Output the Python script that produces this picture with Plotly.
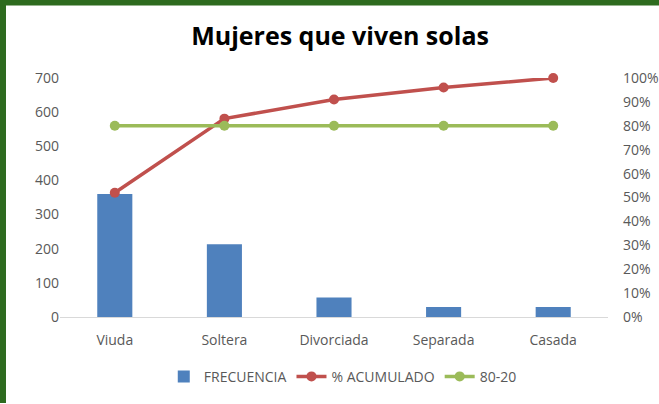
import plotly.graph_objects as go

categorias = ['Viuda', 'Soltera', 'Divorciada', 'Separada', 'Casada']
frecuencia = [360, 213, 57, 29, 29]
pct_acumulado = [0.52, 0.83, 0.91, 0.96, 1.0]
regla_80_20 = [0.8, 0.8, 0.8, 0.8, 0.8]

AZUL = '#4F81BD'
ROJO = '#C0504D'
VERDE = '#9BBB59'
GRIS = '#595959'
FUENTE = 'Open Sans'

fig = go.Figure()
fig.add_trace(go.Bar(x=categorias, y=frecuencia, name='FRECUENCIA',
                     marker=dict(color=AZUL, line=dict(width=0)), width=0.32))
fig.add_trace(go.Scatter(x=categorias, y=pct_acumulado, name='% ACUMULADO', yaxis='y2',
                         mode='lines+markers', line=dict(color=ROJO, width=3.5),
                         marker=dict(color=ROJO, size=10), cliponaxis=False))
fig.add_trace(go.Scatter(x=categorias, y=regla_80_20, name='80-20', yaxis='y2',
                         mode='lines+markers', line=dict(color=VERDE, width=3.5),
                         marker=dict(color=VERDE, size=10), cliponaxis=False))

fig.update_layout(
    width=659, height=404,
    margin=dict(l=60, r=51, t=78, b=86),
    paper_bgcolor='white', plot_bgcolor='white',
    font=dict(family=FUENTE, size=14, color=GRIS),
    title=dict(text='<b>Mujeres que viven solas</b>', x=0.516, xanchor='center',
               y=0.91, yanchor='middle',
               font=dict(family=FUENTE, size=25, color='black')),
    xaxis=dict(showgrid=False, showline=True, linecolor='#D9D9D9', linewidth=1,
               ticks='', ticklabelstandoff=10, automargin=False,
               tickfont=dict(size=14, color=GRIS)),
    yaxis=dict(range=[0, 700], dtick=100, showgrid=False, zeroline=False,
               showline=False, ticks='', automargin=False,
               tickfont=dict(size=14, color=GRIS)),
    yaxis2=dict(range=[0, 1], dtick=0.1, tickformat='.0%', overlaying='y', side='right',
                showgrid=False, zeroline=False, showline=False, ticks='',
                ticklabelstandoff=14, automargin=False,
                tickfont=dict(size=14, color=GRIS)),
    legend=dict(orientation='h', x=0.516, xanchor='center', y=-0.245, yanchor='middle',
                font=dict(size=14, color=GRIS), bgcolor='rgba(0,0,0,0)'),
    showlegend=True,
    bargap=0.68,
)

# marco verde del recorte original
fig.add_shape(type='rect', xref='paper', yref='paper', xsizemode='pixel', xanchor=0,
              x0=-60, x1=-54, y0=-0.36, y1=1.33, line=dict(width=0), fillcolor='#2E6B1F')
fig.add_shape(type='rect', xref='paper', yref='paper',
              x0=-0.11, x1=1.1, y0=1.303, y1=1.33, line=dict(width=0), fillcolor='#2E6B1F')

fig.write_html('out.html', config={'displayModeBar': False},
               post_script="document.body.style.margin='0';")
